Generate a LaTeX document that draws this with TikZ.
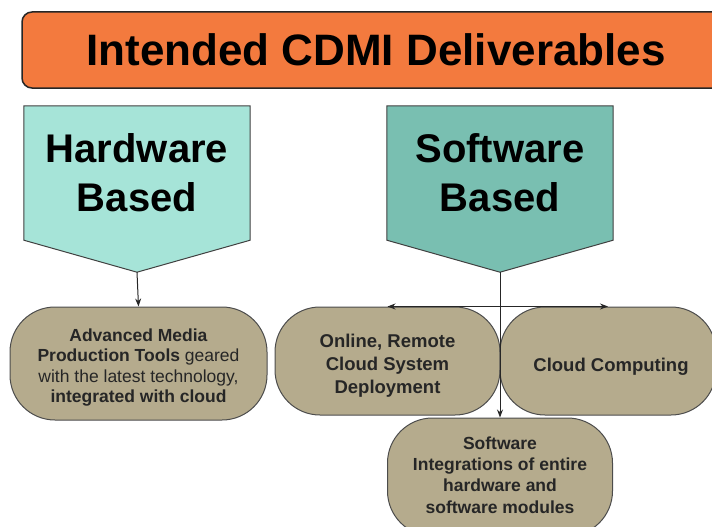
\documentclass[tikz,border=0pt]{standalone}
\usepackage{fontspec}
\setmainfont{Liberation Sans}
\usetikzlibrary{arrows.meta,backgrounds,calc}

\definecolor{titleorange}{RGB}{243,122,62}
\definecolor{hwteal}{RGB}{166,228,216}
\definecolor{swteal}{RGB}{121,191,177}
\definecolor{ovalkhaki}{RGB}{181,171,141}

\begin{document}
\begin{tikzpicture}[x=1pt,y=-1pt,
  title/.style={draw=black!85,line width=1.5pt,fill=titleorange,rounded corners=10pt,
    minimum width=708pt,minimum height=76pt,font=\bfseries\fontsize{44}{50}\selectfont},
  based/.style={align=center,minimum width=226pt,minimum height=134pt,
    font=\bfseries\fontsize{40}{49}\selectfont},
  pent/.style={draw=black!75,line width=1pt},
  oval/.style={draw=black!70,line width=1pt,fill=ovalkhaki,rounded corners=45pt,inner sep=0pt},
  ovaltext/.style={align=center,inner sep=0pt,text=black!85},
  arr/.style={-{Stealth[length=8pt,width=6pt]},line width=1pt,black!85}]

  \useasboundingbox (0,0) rectangle (712,527);
  \clip (0,0) rectangle (712,527);

  % Heading bar
  \node[title] (title) at (376,50) {Intended CDMI Deliverables};

  % The two branches
  \node[based] (hw) at (137,173) {Hardware\\Based};
  \node[based] (sw) at (500,173) {Software\\Based};

  \begin{pgfonlayer}{background}
    \path[pent,fill=hwteal] (hw.north west) -- (hw.north east) -- (hw.south east)
      -- ($(hw.south)+(0,32)$) coordinate (hwtip) -- (hw.south west) -- cycle;
    \path[pent,fill=swteal] (sw.north west) -- (sw.north east) -- (sw.south east)
      -- ($(sw.south)+(0,32)$) coordinate (swtip) -- (sw.south west) -- cycle;
  \end{pgfonlayer}

  % Deliverables
  \node[oval,minimum width=257pt,minimum height=113pt] (media) at (138.5,363.5) {};
  \node[ovaltext,font=\fontsize{17.5}{20.5}\selectfont] (mediatxt) at ($(media)+(0,4)$)
    {\textbf{Advanced Media}\\\textbf{Production Tools} geared\\with the latest technology,\\\textbf{integrated with cloud}};

  \node[oval,minimum width=225pt,minimum height=108pt] (online) at (387.5,361) {};
  \node[ovaltext,font=\bfseries\fontsize{18.5}{23}\selectfont] (onlinetxt) at ($(online)+(0,5)$)
    {Online, Remote\\Cloud System\\Deployment};

  \node[oval,minimum width=216pt,minimum height=108pt] (cloud) at (608,361) {};
  \node[ovaltext,font=\bfseries\fontsize{18.5}{23}\selectfont] (cloudtxt) at ($(cloud)+(3,6)$)
    {Cloud Computing};

  \node[oval,minimum width=225pt,minimum height=118pt] (integ) at (500,477) {};
  \node[ovaltext,font=\bfseries\fontsize{17.5}{21.3}\selectfont] (integtxt) at ($(integ)+(0,-2)$)
    {Software\\Integrations of entire\\hardware and\\software modules};

  % Connectors
  \coordinate (split) at (swtip |- online.north);
  \draw[arr] (hwtip) -- (media.north);
  \draw[arr] (swtip) -- (integ.north);
  \draw[arr] (split) -- (online.north);
  \draw[arr] (split) -- (cloud.north);

\end{tikzpicture}
\end{document}
